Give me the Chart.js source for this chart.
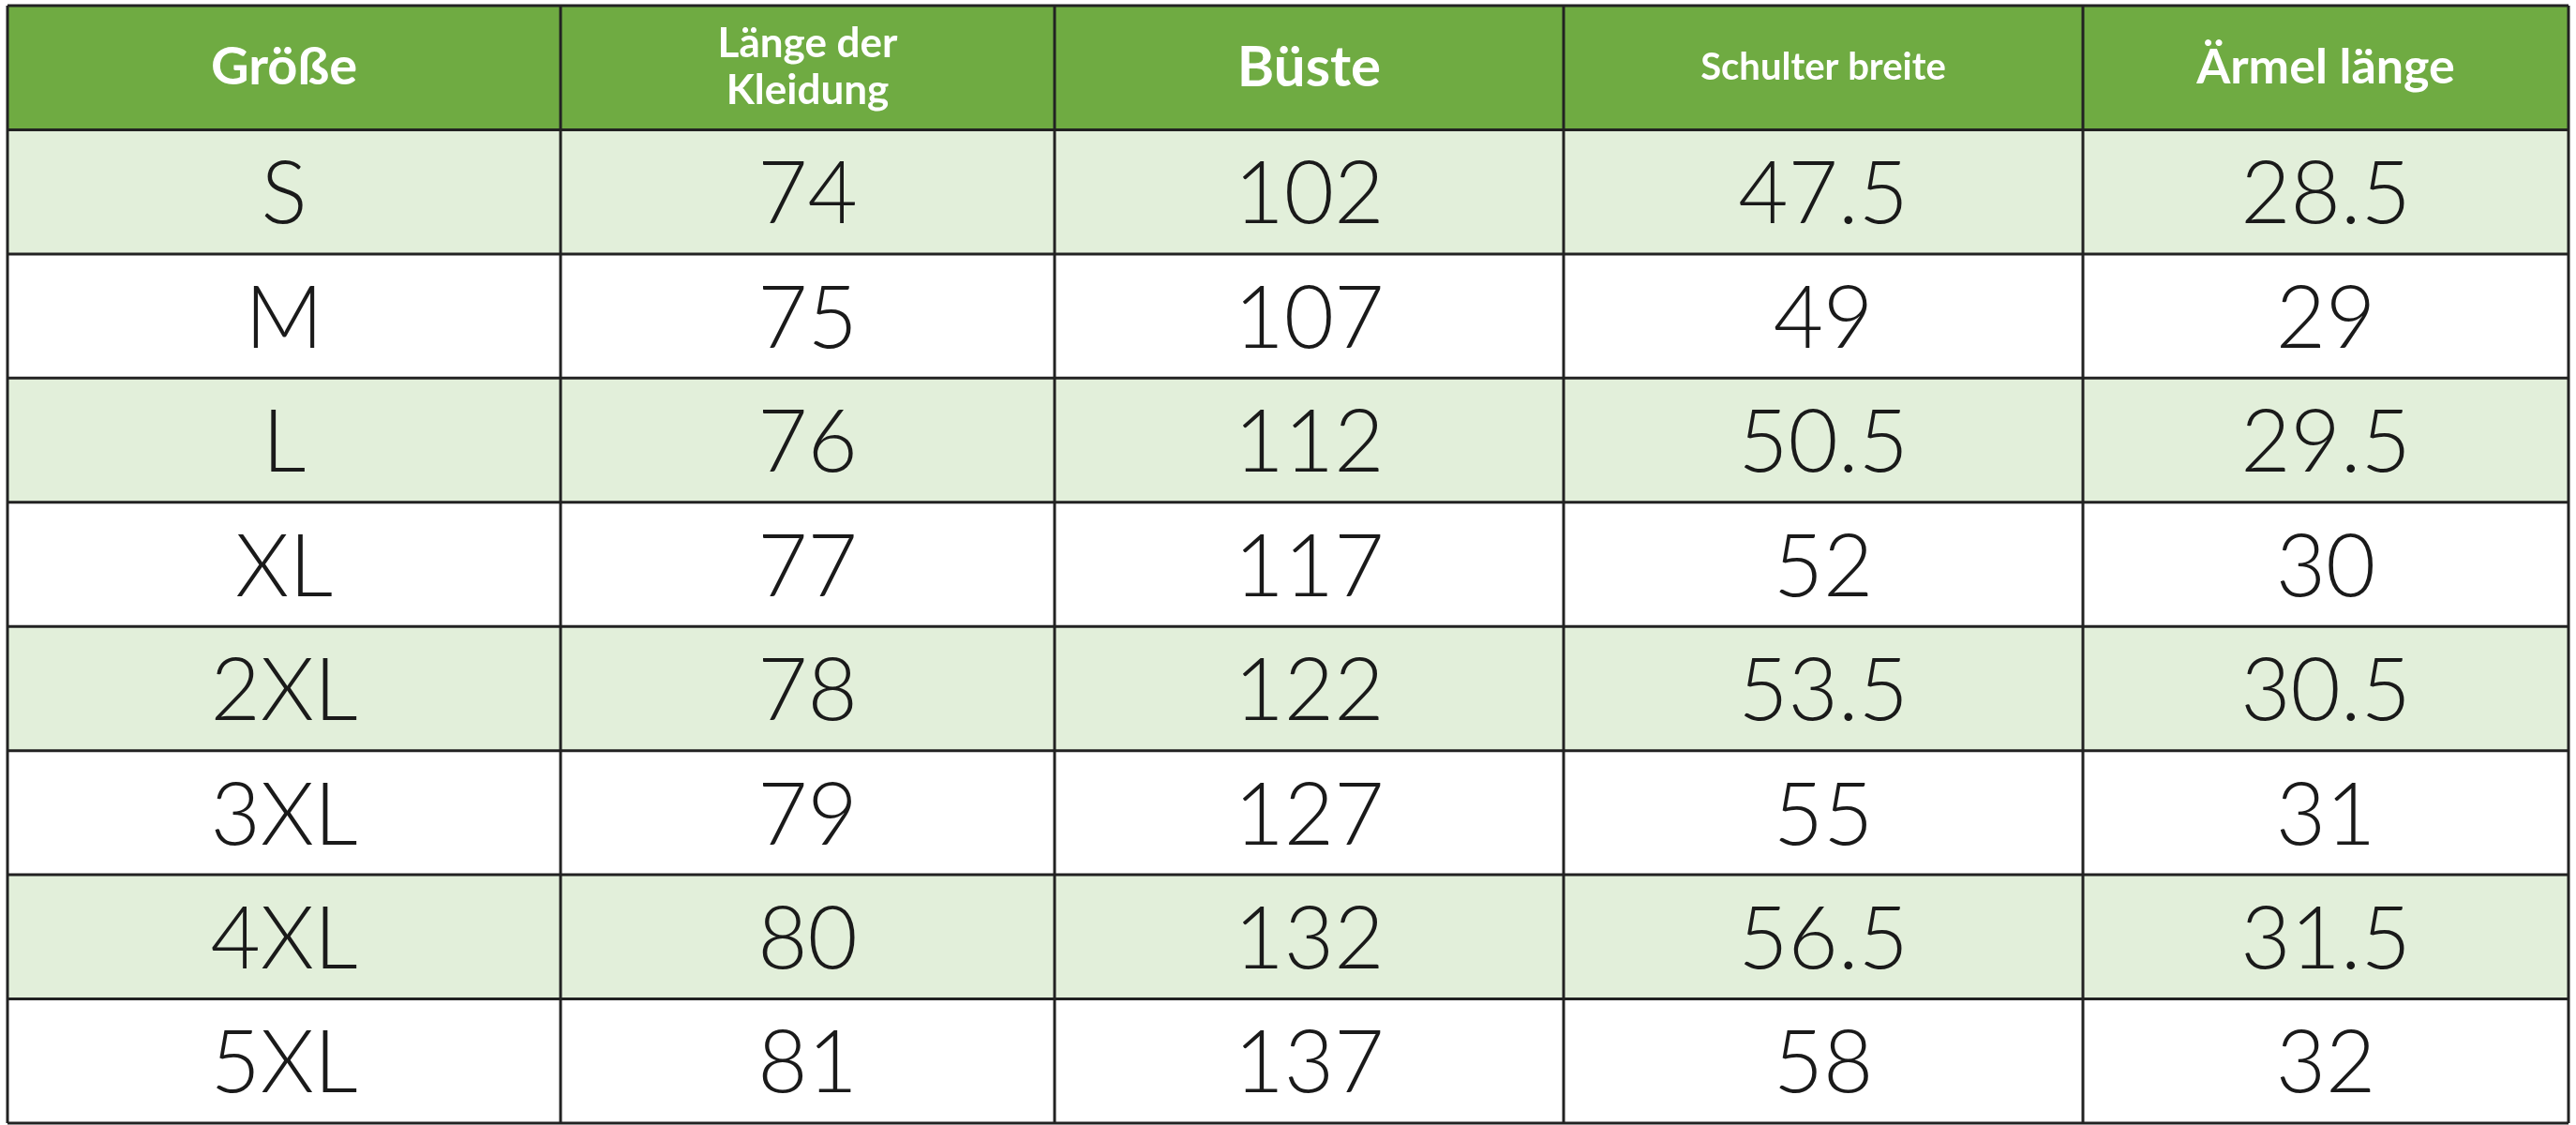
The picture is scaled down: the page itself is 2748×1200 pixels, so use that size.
<!DOCTYPE html>
<html>
<head>
<meta charset="utf-8">
<script src="https://cdn.jsdelivr.net/npm/chart.js@4"></script>
<style>
  html, body { margin: 0; padding: 0; background: #fff; }
  #wrap { width: 2748px; height: 1200px; }
</style>
</head>
<body>
<div id="wrap"><canvas id="tbl"></canvas></div>
<script>
const headers = ['Größe', 'Länge der\nKleidung', 'Büste', 'Schulter breite', 'Ärmel länge'];
const sizes = ['S', 'M', 'L', 'XL', '2XL', '3XL', '4XL', '5XL'];
const lengths = ['74', '75', '76', '77', '78', '79', '80', '81'];
const bust = ['102', '107', '112', '117', '122', '127', '132', '137'];
const shoulder = ['47.5', '49', '50.5', '52', '53.5', '55', '56.5', '58'];
const sleeve = ['28.5', '29', '29.5', '30', '30.5', '31', '31.5', '32'];

// layout only
const colEdges = [8, 598, 1125, 1668, 2222, 2740];
const headerFonts = ['bold 56px Lato', 'bold 44px Lato', 'bold 60px Lato', 'bold 40px Lato', 'bold 52px Lato'];

const rowLabels = ['head'].concat(sizes);
const columns = [sizes, lengths, bust, shoulder, sleeve];
const rowColors = rowLabels.map((r, i) => i === 0 ? '#6fab42' : (i % 2 ? '#e2efda' : '#ffffff'));

const tablePlugin = {
  id: 'tablePlugin',
  afterDatasetsDraw(chart) {
    const ctx = chart.ctx, xs = chart.scales.x, ys = chart.scales.y;
    const half = (ys.getPixelForValue(1) - ys.getPixelForValue(0)) / 2;
    ctx.save();
    // grid lines
    ctx.strokeStyle = '#222';
    ctx.lineWidth = 3;
    const top = ys.getPixelForValue(0) - half, bottom = ys.getPixelForValue(rowLabels.length - 1) + half;
    for (let i = 0; i <= rowLabels.length; i++) {
      const y = ys.getPixelForValue(0) - half + i * half * 2;
      ctx.beginPath(); ctx.moveTo(xs.getPixelForValue(colEdges[0]), y);
      ctx.lineTo(xs.getPixelForValue(colEdges[colEdges.length - 1]), y); ctx.stroke();
    }
    colEdges.forEach(e => {
      const x = xs.getPixelForValue(e);
      ctx.beginPath(); ctx.moveTo(x, top); ctx.lineTo(x, bottom); ctx.stroke();
    });
    ctx.textAlign = 'center';
    ctx.textBaseline = 'middle';
    // header
    ctx.fillStyle = '#ffffff';
    headers.forEach((h, c) => {
      const cx = xs.getPixelForValue((colEdges[c] + colEdges[c + 1]) / 2);
      const cy = ys.getPixelForValue(0);
      ctx.font = headerFonts[c];
      const lines = h.split('\n');
      lines.forEach((ln, k) => ctx.fillText(ln, cx, cy + (k - (lines.length - 1) / 2) * 50));
    });
    // body
    ctx.fillStyle = '#1a1a1a';
    ctx.font = '300 92px Lato';
    columns.forEach((col, c) => {
      const cx = xs.getPixelForValue((colEdges[c] + colEdges[c + 1]) / 2);
      col.forEach((v, r) => ctx.fillText(v, cx, ys.getPixelForValue(r + 1) + 4));
    });
    ctx.restore();
  }
};

new Chart(document.getElementById('tbl'), {
  type: 'bar',
  data: {
    labels: rowLabels,
    datasets: [{
      data: rowLabels.map(() => [colEdges[0], colEdges[colEdges.length - 1]]),
      backgroundColor: rowColors,
      borderWidth: 0,
      barPercentage: 1,
      categoryPercentage: 1
    }]
  },
  options: {
    indexAxis: 'y',
    responsive: true,
    maintainAspectRatio: false,
    animation: false,
    layout: { padding: { top: 6, bottom: 2 } },
    plugins: { legend: { display: false }, tooltip: { enabled: false } },
    scales: {
      x: { type: 'linear', min: 0, max: 2748, display: false },
      y: { type: 'category', display: false, offset: true }
    }
  },
  plugins: [tablePlugin]
});
</script>
</body>
</html>
